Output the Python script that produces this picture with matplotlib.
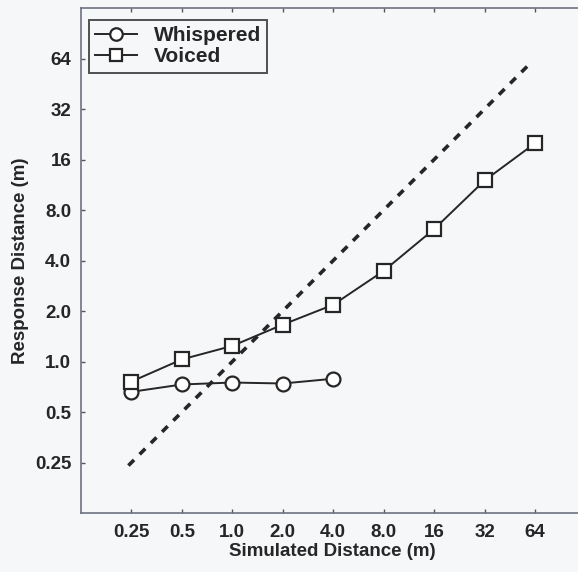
import numpy as np
import matplotlib.pyplot as plt
from matplotlib.ticker import FixedLocator, NullLocator, FixedFormatter

# Datos
distancias = [0.25, 0.5, 1.0, 2.0, 4.0, 8.0, 16, 32, 64]
etiquetas = ["0.25", "0.5", "1.0", "2.0", "4.0", "8.0", "16", "32", "64"]

x_susurro = [0.25, 0.5, 1.0, 2.0, 4.0]
y_susurro = [0.66, 0.73, 0.75, 0.74, 0.79]

x_voz = [0.25, 0.5, 1.0, 2.0, 4.0, 8.0, 16, 32, 64]
y_voz = [0.76, 1.03, 1.24, 1.66, 2.18, 3.47, 6.16, 12.0, 20.0]

x_ref = [0.24, 60]

plt.rcParams['font.family'] = ['Liberation Sans', 'DejaVu Sans']
plt.rcParams['font.weight'] = 'bold'

fondo = "#f6f7f9"
tinta = "#262626"

fig = plt.figure(figsize=(5.78, 5.72), dpi=100, facecolor=fondo)
ax = fig.add_axes([0.140, 0.103, 0.87, 0.883])
ax.set_facecolor(fondo)

ax.plot(x_susurro, y_susurro, color=tinta, lw=1.4, marker="o", ms=10,
        mfc="white", mec=tinta, mew=1.6, label="Whispered", zorder=3)
ax.plot(x_voz, y_voz, color=tinta, lw=1.4, marker="s", ms=10,
        mfc="white", mec=tinta, mew=1.6, label="Voiced", zorder=3)
ax.plot(x_ref, x_ref, color=tinta, lw=2.6, ls=(0, (2.2, 2.2)), zorder=2)

ax.set_xscale("log", base=2)
ax.set_yscale("log", base=2)
ax.set_xlim(0.125, 125)
ax.set_ylim(0.125, 128)

ax.xaxis.set_major_locator(FixedLocator(distancias))
ax.xaxis.set_major_formatter(FixedFormatter(etiquetas))
ax.yaxis.set_major_locator(FixedLocator(distancias))
ax.yaxis.set_major_formatter(FixedFormatter(etiquetas))
ax.xaxis.set_minor_locator(NullLocator())
ax.yaxis.set_minor_locator(NullLocator())

ax.tick_params(direction="in", length=3, width=1, colors="#555555",
               labelcolor=tinta, labelsize=13.5, top=True, right=True)
ax.tick_params(axis="x", pad=8)
ax.tick_params(axis="y", pad=7)
for lado in ["left", "bottom", "top", "right"]:
    ax.spines[lado].set_color("#6e7280")
    ax.spines[lado].set_linewidth(1.2)

ax.set_xlabel("Simulated Distance (m)", fontsize=13.5, fontweight="bold",
              color=tinta, labelpad=1)
ax.set_ylabel("Response Distance (m)", fontsize=13.5, fontweight="bold",
              color=tinta, labelpad=4)

leg = ax.legend(loc="upper left", fontsize=15, frameon=True, fancybox=False,
                handlelength=2.0, borderpad=0.3, labelspacing=0.1,
                handletextpad=0.8, borderaxespad=0,
                bbox_to_anchor=(0.016, 0.976))
leg.get_frame().set_edgecolor(tinta)
leg.get_frame().set_linewidth(1.4)
leg.get_frame().set_facecolor(fondo)
for h in leg.legend_handles:
    h.set_markersize(9)
for t in leg.get_texts():
    t.set_color(tinta)

plt.savefig("out.png", dpi=100, facecolor=fig.get_facecolor())
